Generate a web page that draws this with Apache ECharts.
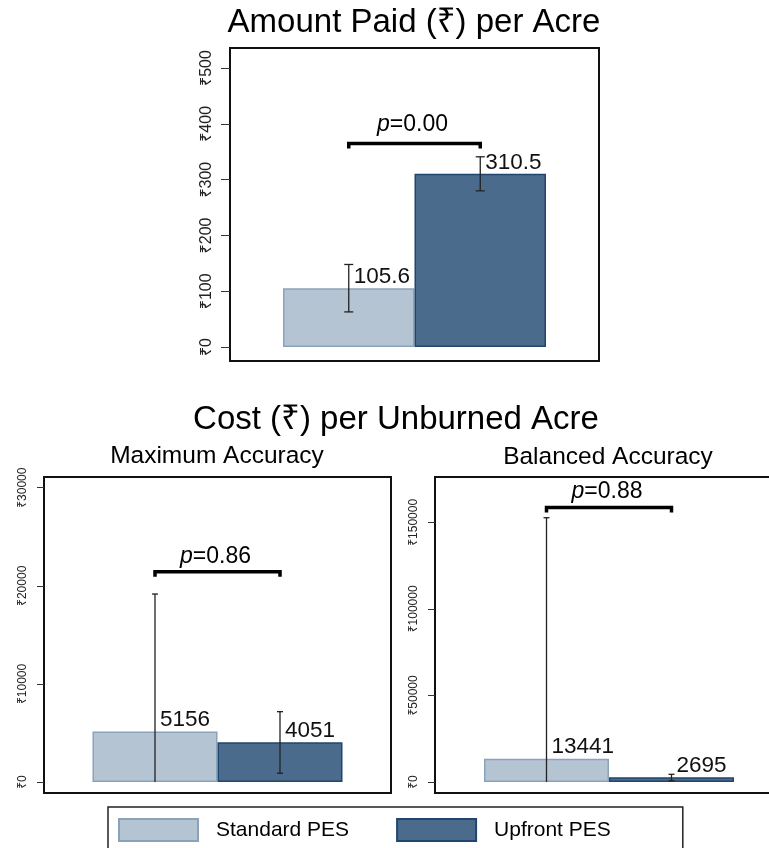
<!DOCTYPE html>
<html><head><meta charset="utf-8">
<script src="https://cdn.jsdelivr.net/npm/echarts@6/dist/echarts.min.js"></script>
<style>html,body{margin:0;padding:0;background:#fff}#chart{width:769px;height:848px}</style>
</head><body><div id="chart"></div>
<script>
// ---- data ----
const categories = ['Standard PES', 'Upfront PES'];
const mainTitles = ['Amount Paid (₹) per Acre', 'Cost (₹) per Unburned Acre'];
const panelTitles = ['Maximum Accuracy', 'Balanced Accuracy'];
const standardMean = [105.6, 5156, 13441];
const upfrontMean = [310.5, 4051, 2695];
const standardLow = [63, 0, 0];
const standardHigh = [148, 19160, 152660];
const upfrontLow = [280, 890, 750];
const upfrontHigh = [341, 7170, 4450];
const pValues = ['0.00', '0.86', '0.88'];
const bracketLevel = [365, 21440, 158600];
const ticksPanel1 = [0, 100, 200, 300, 400, 500];
const ticksPanel2 = [0, 10000, 20000, 30000];
const ticksPanel3 = [0, 50000, 100000, 150000];
const axisMin = [-25, -1120, -6350];
const axisMax = [536, 31090, 176170];

// ---- layout / style ----
const FONT = "'Liberation Sans', Arial, 'Noto Sans', sans-serif";
const tickSets = [ticksPanel1, ticksPanel2, ticksPanel3];
const grids = [
  {left: 230, top: 48, width: 369, height: 313},
  {left: 44, top: 477, width: 347, height: 316},
  {left: 435, top: 477, width: 348, height: 316}
];
const barW = [131.5, 125, 125];
const capW = [9, 6, 6];
const axisFont = [16, 12, 12];
const tickLen = [9, 7, 7];
const pGap = [7, 4, 4];
const labelOffset = [5, 5, 5];
const colStd = {color: '#b4c4d3', borderColor: '#8aa3bb', borderWidth: 1.5};
const colUp = {color: '#4a6b8c', borderColor: '#21466d', borderWidth: 1.5};

const chart = echarts.init(document.getElementById('chart'), null, {renderer: 'canvas'});

const xAxes = [], yAxes = [], series = [];
grids.forEach((g, i) => {
  xAxes.push({gridIndex: i, type: 'category', data: [''], show: false});
  yAxes.push({
    gridIndex: i, type: 'value', min: axisMin[i], max: axisMax[i],
    splitLine: {show: false}, axisLine: {show: false},
    axisTick: {show: true, length: tickLen[i], lineStyle: {color: '#333', width: 1}, customValues: tickSets[i]},
    axisLabel: {rotate: 90, margin: 15, fontSize: axisFont[i], color: '#222', fontFamily: FONT,
      customValues: tickSets[i], formatter: v => '₹' + v}
  });
  const lbl = {
    show: true, position: ['50%', 0], offset: [labelOffset[i], 0], align: 'left', verticalAlign: 'bottom',
    fontSize: 22.5, color: '#111', fontFamily: FONT, formatter: p => String(p.value)
  };
  series.push({type: 'bar', name: categories[0], xAxisIndex: i, yAxisIndex: i, data: [standardMean[i]],
    barWidth: barW[i], barGap: '0%', itemStyle: colStd, label: lbl, silent: true});
  series.push({type: 'bar', name: categories[1], xAxisIndex: i, yAxisIndex: i, data: [upfrontMean[i]],
    barWidth: barW[i], barGap: '0%', itemStyle: colUp, label: lbl, silent: true});
  // error bars
  series.push({
    type: 'custom', xAxisIndex: i, yAxisIndex: i, z: 5, silent: true,
    encode: {x: 0, y: [1, 2]},
    data: [[0, standardLow[i], standardHigh[i]], [0, upfrontLow[i], upfrontHigh[i]]],
    renderItem: (params, api) => {
      const side = params.dataIndex === 0 ? -1 : 1;
      const hi = api.coord([api.value(0), api.value(2)]);
      const lo = api.coord([api.value(0), api.value(1)]);
      const x = hi[0] + side * barW[i] / 2;
      const st = {stroke: '#222', lineWidth: 1.3};
      const ch = [
        {type: 'line', shape: {x1: x, y1: hi[1], x2: x, y2: lo[1]}, style: st},
        {type: 'line', shape: {x1: x - capW[i] / 2, y1: hi[1], x2: x + capW[i] / 2, y2: hi[1]}, style: st}
      ];
      if (api.value(1) > 0) {
        ch.push({type: 'line', shape: {x1: x - capW[i] / 2, y1: lo[1], x2: x + capW[i] / 2, y2: lo[1]}, style: st});
      }
      return {type: 'group', children: ch};
    }
  });
  // significance bracket
  series.push({
    type: 'custom', xAxisIndex: i, yAxisIndex: i, z: 6, silent: true,
    encode: {x: 0, y: 1},
    data: [[0, bracketLevel[i]]],
    renderItem: (params, api) => {
      const c = api.coord([api.value(0), api.value(1)]);
      const x1 = c[0] - barW[i] / 2, x2 = c[0] + barW[i] / 2, y = c[1];
      return {type: 'group', children: [
        {type: 'polyline', shape: {points: [[x1, y + 5], [x1, y], [x2, y], [x2, y + 5]]},
          style: {stroke: '#000', lineWidth: 3.5, fill: null}},
        {type: 'text', x: (x1 + x2) / 2 - 2, y: y - pGap[i],
          style: {text: '{i|p}=' + pValues[i], fontSize: 23, fontFamily: FONT, fill: '#000',
            align: 'center', verticalAlign: 'bottom',
            rich: {i: {fontStyle: 'italic', fontSize: 23, fontFamily: FONT, fill: '#000'}}}}
      ]};
    }
  });
});

const titleStyle = (fs) => ({fontSize: fs, fontWeight: 'normal', color: '#000', fontFamily: FONT});

chart.setOption({
  animation: false,
  backgroundColor: '#fff',
  title: [
    {text: mainTitles[0], left: 414, top: 6, textAlign: 'center', padding: 0, textStyle: titleStyle(33)},
    {text: mainTitles[1], left: 396, top: 403, textAlign: 'center', padding: 0, textStyle: titleStyle(33)},
    {text: panelTitles[0], left: 217, top: 444, textAlign: 'center', padding: 0, textStyle: titleStyle(24.5)},
    {text: panelTitles[1], left: 608, top: 445, textAlign: 'center', padding: 0, textStyle: titleStyle(24.5)}
  ],
  legend: {
    left: 108, top: 807, orient: 'horizontal', data: categories, icon: 'rect',
    itemWidth: 79, itemHeight: 22, itemGap: 47, padding: [11, 72, 11, 10],
    borderColor: '#222', borderWidth: 1.5, selectedMode: false,
    textStyle: {fontSize: 21, color: '#000', fontFamily: FONT, padding: [0, 0, 0, 13]}
  },
  grid: grids.map(g => Object.assign({show: true, borderColor: '#111', borderWidth: 2, backgroundColor: '#fff',
    outerBoundsMode: 'none', containLabel: false}, g)),
  xAxis: xAxes,
  yAxis: yAxes,
  series: series
});
</script></body></html>
